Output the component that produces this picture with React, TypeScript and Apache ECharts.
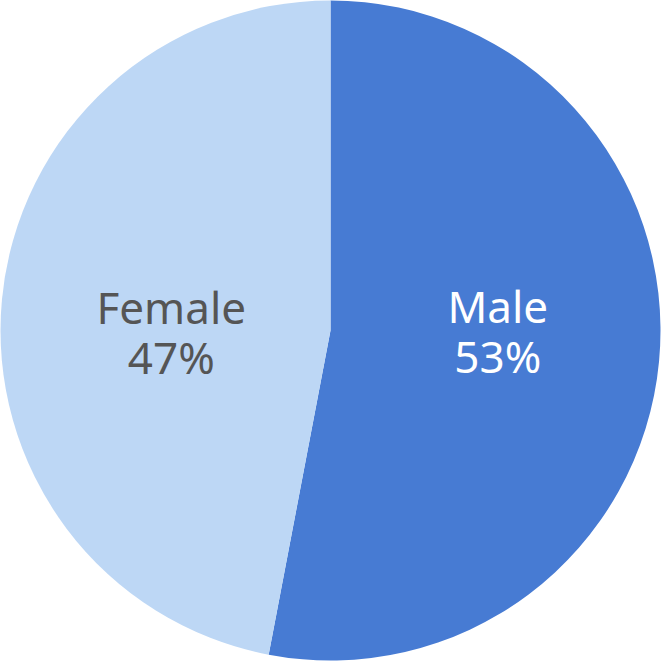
import React, { useRef, useEffect } from 'react';
import * as echarts from 'echarts';

const categories = ['Male', 'Female'];
const shares = [53, 47];
const colors = ['#477BD3', '#BDD7F5'];
const labelColors = ['#FFFFFF', '#555555'];

export default function App() {
    const chartRef = useRef<HTMLDivElement>(null);

    useEffect(() => {
        if (!chartRef.current) return;
        const chart = echarts.init(chartRef.current, null, { renderer: 'svg' });

        const offsets = [[0, -15], [8, 17]];

        chart.setOption({
            animation: false,
            backgroundColor: '#FFFFFF',
            series: [
                {
                    type: 'pie',
                    center: ['50%', '50%'],
                    radius: ['0%', 330],
                    startAngle: 90,
                    clockwise: true,
                    silent: true,
                    label: {
                        show: true,
                        position: 'inside',
                        fontFamily: 'Noto Sans',
                        fontSize: 44,
                        lineHeight: 50,
                        formatter: (p: any) => `${p.name}\n${p.value}%`
                    },
                    labelLine: { show: false },
                    data: categories.map((name, i) => ({
                        name,
                        value: shares[i],
                        itemStyle: { color: colors[i] },
                        label: { color: labelColors[i], offset: offsets[i] }
                    }))
                }
            ]
        });

        return () => {
            chart.dispose();
        };
    }, []);

    return (
        <div
            ref={chartRef}
            style={{ position: 'absolute', left: 0, top: 0, width: 661, height: 661 }}
        />
    );
}
